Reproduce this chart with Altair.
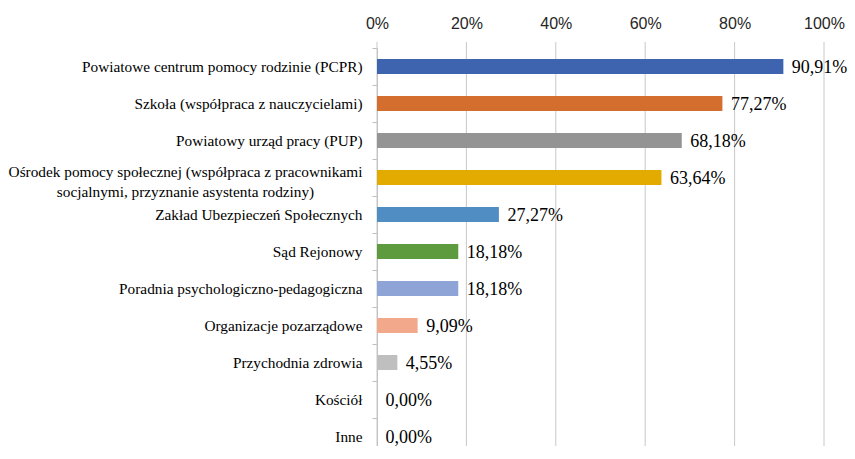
import altair as alt
import pandas as pd

categories = [
    "Powiatowe centrum pomocy rodzinie (PCPR)",
    "Szkoła (współpraca z nauczycielami)",
    "Powiatowy urząd pracy (PUP)",
    "Ośrodek pomocy społecznej (współpraca z pracownikami|socjalnymi, przyznanie asystenta rodziny)",
    "Zakład Ubezpieczeń Społecznych",
    "Sąd Rejonowy",
    "Poradnia psychologiczno-pedagogiczna",
    "Organizacje pozarządowe",
    "Przychodnia zdrowia",
    "Kościół",
    "Inne",
]
values = [90.91, 77.27, 68.18, 63.64, 27.27, 18.18, 18.18, 9.09, 4.55, 0.0, 0.0]
colors = ["#3F64AF", "#D46E2E", "#949494", "#E3AA00", "#508DC3", "#5E9A3E",
          "#8EA3D6", "#F2A88A", "#BFBFBF", "#BFBFBF", "#BFBFBF"]
tick_values = [0, 20, 40, 60, 80, 100]

df = pd.DataFrame({"cat": categories, "val": values, "col": colors})
grid_df = pd.DataFrame({"t": tick_values})

STEP = 37.0
FULL = STEP * len(categories)
W = 447
H = 398

xscale = alt.Scale(domain=[0, 100], nice=False, zero=True)
xaxis = alt.Axis(orient="top", values=tick_values, labelExpr="datum.value + '%'",
                 grid=False, domain=False, ticks=False, labelPadding=17,
                 labelFlush=False,
                 labelFont="Liberation Sans", labelFontSize=16, labelColor="#262626",
                 title=None)
yscale = alt.Scale(domain=categories, range=[0, FULL], paddingInner=0, paddingOuter=0)
yaxis = alt.Axis(labels=False, title=None, domain=True, domainColor="#BFBFBF",
                 ticks=True, tickBand="extent", tickSize=5, tickColor="#BFBFBF",
                 grid=False)

y_enc = alt.Y("cat:N", scale=yscale, axis=yaxis)
x_enc = alt.X("val:Q", scale=xscale, axis=xaxis)

base = alt.Chart(df)

grid = alt.Chart(grid_df).mark_rule(color="#C8C8C8", strokeWidth=1).encode(
    x=alt.X("t:Q", scale=xscale, axis=xaxis),
    y=alt.value(-6),
    y2=alt.value(FULL),
)

bars = base.mark_bar(size=15).encode(
    x=x_enc,
    y=y_enc,
    color=alt.Color("col:N", scale=None),
)

vals = base.transform_calculate(
    lbl="replace(format(datum.val, '.2f'), '.', ',') + '%'"
).mark_text(
    align="left", baseline="middle", dx=8.5, dy=1.5,
    font="Liberation Serif", fontSize=18, color="black",
).encode(x=x_enc, y=y_enc, text="lbl:N")

cat_r = base.transform_filter("indexof(datum.cat, '|') < 0").mark_text(
    align="right", baseline="middle", font="Liberation Serif", fontSize=15.3,
    color="black",
).encode(x=alt.value(-14.5), y=y_enc, text="cat:N")

cat_c = base.transform_filter("indexof(datum.cat, '|') >= 0").mark_text(
    align="center", baseline="middle", font="Liberation Serif", fontSize=15.3,
    color="black", lineBreak="|", lineHeight=20, dy=-6,
).encode(x=alt.value(-191.5), y=y_enc, text="cat:N")

chart = alt.layer(grid, bars, vals, cat_r, cat_c).properties(
    width=W, height=H, autosize="none",
    padding={"left": 369, "top": 40, "right": 23, "bottom": 0},
).configure_view(stroke=None)

chart.save("out.html", embed_options={"renderer": "svg", "actions": False})
